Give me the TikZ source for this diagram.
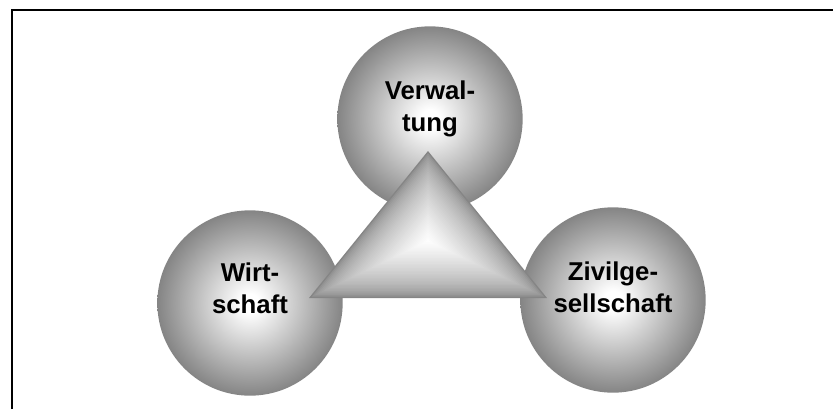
\documentclass[tikz,border=0pt]{standalone}
\usepackage{fontspec}
\setmainfont{Liberation Sans}
\usetikzlibrary{calc}

\pgfdeclareradialshading{ballshade}{\pgfpoint{0bp}{0bp}}{%
  color(0bp)=(white); color(2.5bp)=(white); color(25bp)=(black!48); color(50bp)=(black!48)}
\definecolor{tricol}{gray}{0.52}

\begin{document}
\begin{tikzpicture}[x=0.03cm,y=-0.03cm,
    sphere/.style={circle,minimum size=5.56cm,inner sep=0pt,shading=ballshade},
    lbl/.style={align=center,font=\fontsize{22}{27.5}\selectfont\bfseries}]
  \useasboundingbox (0,0) rectangle (833,409);
  % frame
  \draw[line width=0.06cm] (12,409) -- (12,10) -- (833,10);
  % spheres
  \node[sphere] (verw) at (430,119) {};
  \node[sphere] (wirt) at (250,303) {};
  \node[sphere] (zivil) at (613,300) {};
  \node[lbl] (verwtxt) at ([yshift=0.3cm]verw.center) {Verwal-\\tung};
  \node[lbl] (wirttxt) at ([yshift=0.45cm]wirt.center) {Wirt-\\schaft};
  \node[lbl] (zivtxt) at ([yshift=0.39cm]zivil.center) {Zivilge-\\sellschaft};
  % triangle
  \coordinate (tA) at (428,151);
  \coordinate (tB) at (309,298);
  \coordinate (tC) at (547,298);
  \coordinate (tI) at (428,241);
  \foreach \k in {0,...,40}{
    \pgfmathsetmacro\tone{min(100,100*(\k/40)^0.6)}
    \fill[white!\tone!tricol]
      ($(tI)!{1-\k/40}!(tA)$) -- ($(tI)!{1-\k/40}!(tB)$) -- ($(tI)!{1-\k/40}!(tC)$) -- cycle;
  }
\end{tikzpicture}
\end{document}
